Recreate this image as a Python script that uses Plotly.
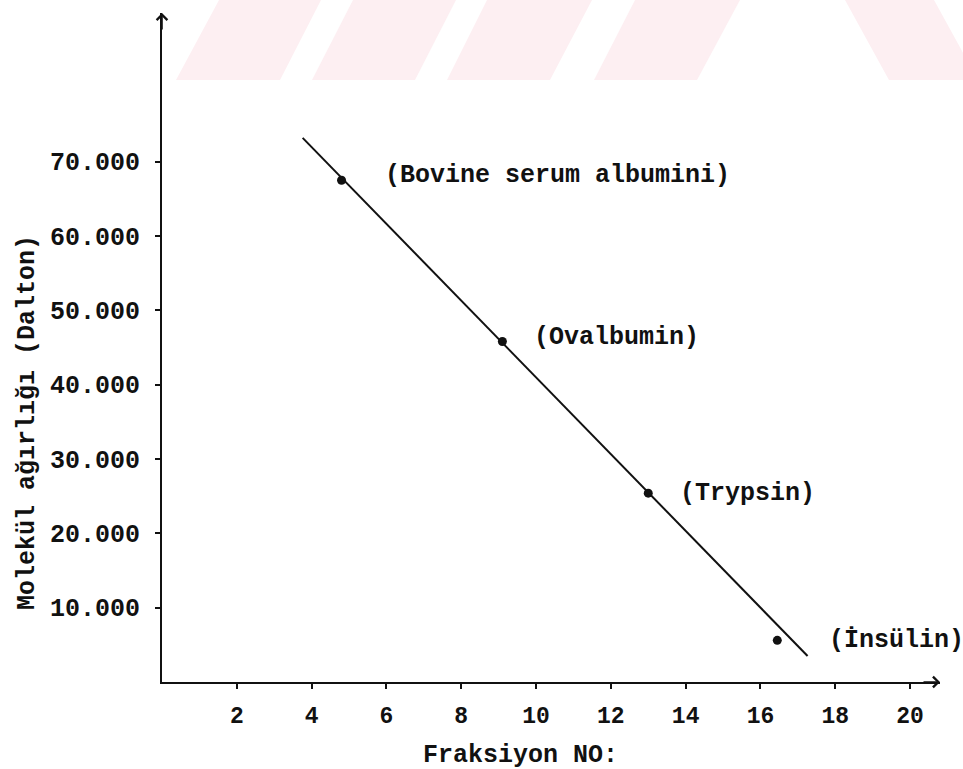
import plotly.graph_objects as go

# ---- data ----
proteins = ["(Bovine serum albumini)", "(Ovalbumin)", "(Trypsin)", "(İnsülin)"]
fraction_no = [4.8, 9.1, 13.0, 16.45]
mol_weight = [67500, 45800, 25400, 5600]

fit_x = [3.76, 17.26]
fit_y = [73200, 3500]

x_tick_vals = [2, 4, 6, 8, 10, 12, 14, 16, 18, 20]
x_tick_text = ["2", "4", "6", "8", "10", "12", "14", "16", "18", "20"]
y_tick_vals = [10000, 20000, 30000, 40000, 50000, 60000, 70000]
y_tick_text = ["10.000", "20.000", "30.000", "40.000", "50.000", "60.000", "70.000"]

x_title = "Fraksiyon NO:"
y_title = "Molekül ağırlığı (Dalton)"

# ---- layout geometry (pixels) ----
W, H = 963, 769
ML, MR, MT, MB = 162, 23, 13, 87
PW, PH = W - ML - MR, H - MT - MB

def px2paper(px, py):
    return (px - ML) / PW, (H - MB - py) / PH

MONO = "Liberation Mono, Courier New, monospace"
INK = "#111111"

fig = go.Figure()

fig.add_trace(go.Scatter(
    x=fit_x, y=fit_y, mode="lines",
    line=dict(color=INK, width=2), hoverinfo="skip", showlegend=False))

fig.add_trace(go.Scatter(
    x=fraction_no, y=mol_weight, mode="markers",
    marker=dict(color=INK, size=9), showlegend=False))

# point labels
label_dx = [41, 30, 30, 50]
label_dy = [5, 4, 0, 0]
for name, xv, yv, dx, dy in zip(proteins, fraction_no, mol_weight, label_dx, label_dy):
    fig.add_annotation(x=xv, y=yv, text=name, showarrow=False,
                       xanchor="left", yanchor="middle", xshift=dx, yshift=dy,
                       font=dict(family=MONO, size=25, color=INK, weight="bold"))

# axis titles
tx, ty = px2paper(520, 755)
fig.add_annotation(xref="paper", yref="paper", x=tx, y=ty, text=x_title,
                   showarrow=False, xanchor="center", yanchor="middle",
                   font=dict(family=MONO, size=25, color=INK, weight="bold"))
tx, ty = px2paper(28, 423)
fig.add_annotation(xref="paper", yref="paper", x=tx, y=ty, text=y_title,
                   showarrow=False, textangle=-90, xanchor="center", yanchor="middle",
                   font=dict(family=MONO, size=25, color=INK, weight="bold"))

# axis arrows
x_end, y_end = 20.8, 90000
fig.add_annotation(x=x_end, y=0, ax=-18, ay=0, text="", showarrow=True,
                   arrowhead=4, arrowsize=1.3, arrowwidth=1.6, arrowcolor=INK)
fig.add_annotation(x=0, y=y_end, ax=0, ay=18, text="", showarrow=True,
                   arrowhead=4, arrowsize=1.3, arrowwidth=1.6, arrowcolor=INK)

# faint watermark stripes at the top
stripes = [
    [(219, 0), (321, 0), (280, 80), (176, 80)],
    [(353, 0), (456, 0), (415, 80), (312, 80)],
    [(487, 0), (592, 0), (550, 80), (447, 80)],
    [(635, 0), (740, 0), (697, 80), (594, 80)],
    [(845, 0), (934, 0), (978, 80), (889, 80)],
]
for poly in stripes:
    pts = [px2paper(a, b) for a, b in poly]
    path = "M " + " L ".join(f"{a:.4f},{b:.4f}" for a, b in pts) + " Z"
    fig.add_shape(type="path", xref="paper", yref="paper", path=path,
                  fillcolor="#fdeff2", line=dict(width=0), layer="below")

fig.update_xaxes(
    range=[0, x_end], tickvals=x_tick_vals, ticktext=x_tick_text,
    showline=True, linecolor=INK, linewidth=2, showgrid=False, zeroline=False,
    ticks="outside", ticklen=5, tickwidth=2, tickcolor=INK, ticklabelstandoff=6,
    tickfont=dict(family=MONO, size=23, color=INK, weight="bold"))
fig.update_yaxes(
    range=[0, y_end], tickvals=y_tick_vals, ticktext=y_tick_text,
    showline=True, linecolor=INK, linewidth=2, showgrid=False, zeroline=False,
    ticks="outside", ticklen=5, tickwidth=2, tickcolor=INK, ticklabelstandoff=10,
    tickfont=dict(family=MONO, size=25, color=INK, weight="bold"))

fig.update_layout(
    width=W, height=H, autosize=False,
    margin=dict(l=ML, r=MR, t=MT, b=MB, pad=0),
    paper_bgcolor="white", plot_bgcolor="white",
    showlegend=False)

fig.write_html("out.html")
